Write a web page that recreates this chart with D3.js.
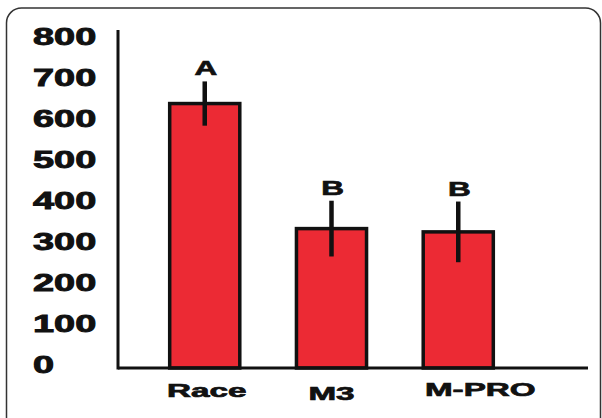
<!DOCTYPE html>
<html>
<head>
    <script src="https://d3js.org/d3.v7.min.js"></script>
    <style>
        body { margin: 0; background: #fff; }
        text { font-family: Arial, "Liberation Sans", sans-serif; font-weight: bold; fill: #111; }
    </style>
</head>
<body>
    <svg id="chart" width="602" height="418"></svg>
    <script>
        // data
        var categories = ["Race", "M3", "M-PRO"];
        var means = [645, 340, 332];
        var errors = [54, 68, 74];
        var letters = ["A", "B", "B"];
        var yTicks = [0, 100, 200, 300, 400, 500, 600, 700, 800];

        // label nudges (the original figure places them a bit unevenly)
        var labelNudge = [[2, 29], [0, 32], [22, 28]];

        var svg = d3.select("#chart");

        // rounded frame
        svg.append("rect")
            .attr("x", 6.5)
            .attr("y", 8)
            .attr("width", 594)
            .attr("height", 425)
            .attr("rx", 15)
            .style("fill", "none")
            .style("stroke", "#333")
            .style("stroke-width", 1.5);

        var x0 = 118, base = 368;

        var y = d3.scaleLinear()
            .domain([0, 800])
            .range([base, 40]);

        var x = d3.scaleBand()
            .domain(categories)
            .range([138, 525])
            .paddingInner(0.447)
            .paddingOuter(0.25);

        // y axis
        var yAxis = svg.append("g")
            .attr("transform", "translate(" + x0 + ",0)")
            .call(d3.axisLeft(y).tickValues(yTicks).tickSize(0));
        yAxis.select(".domain").remove();
        yAxis.selectAll("text")
            .attr("x", 0)
            .attr("dy", "0.35em")
            .attr("text-anchor", "start")
            .attr("transform", "translate(" + (33 - x0) + ",-4) scale(1.58,1)")
            .style("font-size", "24px")
            .style("fill", "#111")
            .style("stroke", "#111")
            .style("stroke-width", 0.9);

        // x axis
        var xAxis = svg.append("g")
            .attr("transform", "translate(0," + base + ")")
            .call(d3.axisBottom(x).tickSize(0));
        xAxis.select(".domain").remove();
        xAxis.selectAll("text")
            .attr("y", 0)
            .attr("dy", 0)
            .attr("text-anchor", "middle")
            .attr("transform", function (d, i) {
                return "translate(" + labelNudge[i][0] + "," + labelNudge[i][1] + ") scale(1.75,1)";
            })
            .style("font-size", "19px")
            .style("fill", "#111")
            .style("stroke", "#111")
            .style("stroke-width", 0.7);

        // bars
        svg.selectAll("rect.bar")
            .data(means)
            .enter()
            .append("rect")
            .attr("class", "bar")
            .attr("x", function (d, i) { return x(categories[i]); })
            .attr("y", function (d) { return y(d); })
            .attr("width", x.bandwidth())
            .attr("height", function (d) { return base - y(d); })
            .style("fill", "#ec2a34")
            .style("stroke", "#111")
            .style("stroke-width", 3.5);

        // error bars
        svg.selectAll("line.err")
            .data(means)
            .enter()
            .append("line")
            .attr("class", "err")
            .attr("x1", function (d, i) { return x(categories[i]) + x.bandwidth() / 2; })
            .attr("x2", function (d, i) { return x(categories[i]) + x.bandwidth() / 2; })
            .attr("y1", function (d, i) { return y(d + errors[i]); })
            .attr("y2", function (d, i) { return y(d - errors[i]); })
            .style("stroke", "#111")
            .style("stroke-width", 4.5);

        // significance letters
        svg.selectAll("text.letter")
            .data(letters)
            .enter()
            .append("text")
            .attr("class", "letter")
            .attr("text-anchor", "middle")
            .attr("transform", function (d, i) {
                var cx = x(categories[i]) + x.bandwidth() / 2 + 1;
                var cy = y(means[i] + errors[i]) - 6;
                return "translate(" + cx + "," + cy + ") scale(1.5,1)";
            })
            .style("font-size", "21px")
            .style("stroke", "#111")
            .style("stroke-width", 0.7)
            .text(function (d) { return d; });

        // axis lines
        svg.append("line")
            .attr("x1", x0).attr("x2", x0)
            .attr("y1", 30).attr("y2", base + 1.5)
            .style("stroke", "#111")
            .style("stroke-width", 3);
        svg.append("line")
            .attr("x1", x0).attr("x2", 588)
            .attr("y1", base).attr("y2", base)
            .style("stroke", "#111")
            .style("stroke-width", 3);
    </script>
</body>
</html>
